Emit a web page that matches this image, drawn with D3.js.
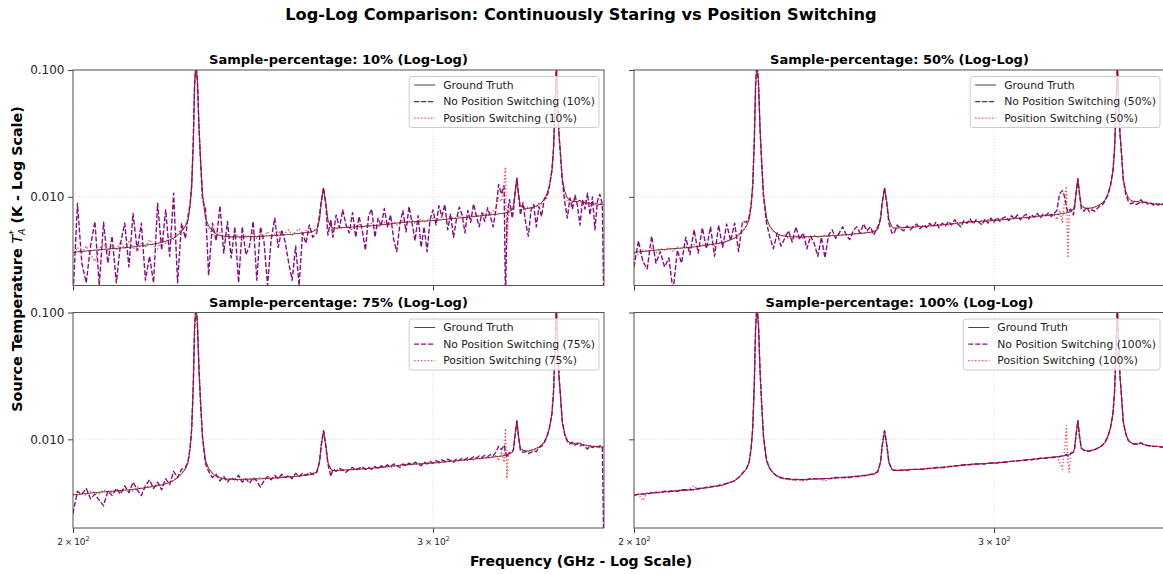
<!DOCTYPE html>
<html><head><meta charset="utf-8">
<script src="https://cdn.jsdelivr.net/npm/d3@7"></script>
<style>
html,body{margin:0;padding:0;background:#fff;}
svg{display:block;font-family:"DejaVu Sans",sans-serif;}
</style></head><body>
<svg id="chart" width="1163" height="574"></svg>
<script>
// Frequency grid (GHz), denser around the spectral lines
const freqGHz = [
  200,201,202,203,204,205,206,207,208,209,210,211,212,213,214,215,216,217,218,219,220,221,222,223,224,225,226,
  227,227.7,228.2,228.6,229.0,229.35,229.7,230.1,230.5,230.9,231.4,232.2,
  233,234,235,236,237,238,239,240,241,242,243,244,245,246,247,248,249,250,251,252,253,254,255,256,257,258,259,260,261,262,
  263.2,264.0,264.5,265.2,265.9,266.5,267.4,
  268,269,270,271,272,273,274,275,276,277,278,279,280,281,282,283,284,285,286,287,
  288,289,290,291,292,293,294,295,296,297,298,299,300,301,302,303,304,305,306,307,
  308,309,310,311,312,313,314,315,316,317,318,319,320,321,322,323,324,325,325.5,326,326.5,327,
  328,328.5,329.0,329.7,330.3,330.9,
  331,332,333,334,335,336,337,338,339,340,341,
  342,343,343.6,344.1,344.7,345.2,345.7,346.2,347.0,
  348,349,350,351,352,353,354,355,356,357,358,359,360,361,362,363,363.6
];

// Source temperature T_A* (K)
const groundTruth = [
  .00365,.00368,.00371,.00374,.00377,.00380,.00383,.00385,.00388,.00390,
  .00392,.00395,.00397,.00400,.00403,.00407,.00411,.00415,.00420,.00425,
  .00430,.00437,.00446,.00458,.00474,.00498,.00535,
  .00585,.0066,.0085,.0120,.0260,.0750,.1150,.0800,.0350,.0196,.0105,.0068,
  .00590,.00540,.00510,.00497,.00490,.00486,.00484,.00483,.00483,.00483,
  .00484,.00485,.00486,.00487,.00488,.00490,.00492,.00494,.00496,.00498,
  .00500,.00502,.00505,.00508,.00511,.00514,.00518,.00522,.00526,.00532,
  .00555,.0066,.0089,.0117,.0089,.0066,.00580,
  .00568,.00568,.00570,.00572,.00574,.00576,.00578,.00580,.00582,.00584,
  .00586,.00589,.00592,.00595,.00598,.00601,.00605,.00609,.00613,.00617,
  .00621,.00625,.00628,.00631,.00634,.00636,.00638,.00640,.00642,.00644,
  .00646,.00648,.00650,.00653,.00656,.00660,.00663,.00667,.00670,.00674,
  .00677,.00681,.00684,.00688,.00691,.00695,.00698,.00702,.00706,.00709,
  .00713,.00717,.00721,.00725,.00729,.00734,.00739,.00745,
  .00748,.00752,.00758,.00770,
  .00790,.0085,.0107,.0140,.0107,.0087,
  .0085,.0082,.0081,.0081,.0082,.0083,.0085,.0087,.0090,.0095,.0105,
  .0122,.0160,.0235,.0450,.1150,.0550,.0320,.0235,.0138,
  .0110,.0098,.0094,.0092,.0092,.0092,.0094,.0091,.0090,.0089,
  .0089,.0088,.0088,.0088,.0087,.0087,.0087
];

const noSwitch10 = [
  .0016,.0089,.0030,.0021,.0041,.0064,.0020,.0063,.0030,.0049,
  .0021,.0043,.0062,.0028,.0074,.0038,.0062,.0022,.0034,.0021,
  .0089,.0038,.0079,.0034,.0107,.0021,.0062,
  .0047,.0072,.0088,.0125,.0270,.0760,.1150,.0790,.0340,.0190,.0095,.0080,
  .0024,.0062,.0045,.0085,.0036,.0064,.0033,.0058,.0021,.0058,
  .0035,.0041,.0064,.0022,.0058,.0044,.0020,.0046,.0068,.0040,
  .0055,.0044,.0030,.0022,.0041,.0020,.0052,.0043,.0060,.0048,
  .0052,.0072,.0093,.0118,.0085,.0050,.0066,
  .0048,.0072,.0057,.0079,.0060,.0052,.0075,.0048,.0070,.0055,
  .0038,.0071,.0080,.0048,.0068,.0059,.0081,.0058,.0072,.0046,
  .0037,.0061,.0078,.0053,.0084,.0062,.0045,.0071,.0040,.0058,
  .0037,.0066,.0079,.0060,.0085,.0070,.0087,.0055,.0073,.0048,
  .0066,.0083,.0072,.0052,.0078,.0063,.0088,.0071,.0058,.0075,
  .0064,.0082,.0070,.0058,.0079,.0125,.0105,.0122,
  .0015,.0060,.0082,.0095,
  .0068,.0080,.0105,.0140,.0104,.0080,
  .0072,.0090,.0062,.0049,.0078,.0087,.0058,.0084,.0070,.0096,.0098,
  .0120,.0165,.0240,.0440,.1150,.0560,.0310,.0230,.0135,
  .0090,.0068,.0098,.0080,.0103,.0085,.0060,.0095,.0080,.0107,
  .0072,.0100,.0055,.0092,.0105,.0088,.0015
];
const switch10 = [
  .0034,.0040,.0036,.0041,.0035,.0031,.0039,.0043,.0037,.0042,
  .0038,.0044,.0039,.0045,.0040,.0037,.0043,.0040,.0046,.0041,
  .0039,.0047,.0043,.0049,.0046,.0052,.0055,
  .0060,.0067,.0086,.0118,.0255,.0740,.1150,.0810,.0355,.0200,.0108,.0066,
  .0057,.0051,.0048,.0052,.0046,.0050,.0047,.0051,.0049,.0045,
  .0050,.0048,.0052,.0047,.0051,.0049,.0053,.0048,.0051,.0054,
  .0049,.0052,.0055,.0050,.0053,.0056,.0051,.0054,.0052,.0055,
  .0054,.0067,.0090,.0116,.0088,.0064,.0058,
  .0058,.0055,.0059,.0056,.0060,.0057,.0055,.0059,.0061,.0057,
  .0060,.0058,.0062,.0059,.0057,.0061,.0063,.0059,.0062,.0064,
  .0060,.0063,.0065,.0061,.0064,.0066,.0062,.0065,.0067,.0063,
  .0066,.0064,.0068,.0065,.0067,.0069,.0066,.0068,.0070,.0067,
  .0069,.0071,.0068,.0070,.0072,.0069,.0071,.0073,.0070,.0072,
  .0075,.0071,.0074,.0076,.0082,.0098,.0092,.0130,
  .0172,.0042,.0068,.0082,
  .0080,.0086,.0106,.0138,.0108,.0088,
  .0083,.0086,.0079,.0084,.0080,.0086,.0083,.0089,.0088,.0097,.0103,
  .0124,.0158,.0238,.0455,.1150,.0545,.0325,.0232,.0140,
  .0108,.0092,.0097,.0090,.0095,.0089,.0094,.0088,.0093,.0087,
  .0091,.0086,.0090,.0085,.0089,.0088,.0087
];

const noSwitch50 = [
  .0028,.0045,.0031,.0027,.0049,.0030,.0037,.0028,.0033,.0018,
  .0038,.0030,.0048,.0035,.0055,.0036,.0057,.0039,.0058,.0034,
  .0060,.0040,.0061,.0045,.0062,.0037,.0064,
  .0063,.0070,.0086,.0122,.0265,.0755,.1150,.0795,.0345,.0193,.0100,.0062,
  .0049,.0039,.0052,.0041,.0047,.0054,.0044,.0058,.0046,.0052,
  .0039,.0049,.0043,.0034,.0048,.0033,.0050,.0055,.0047,.0052,
  .0058,.0050,.0046,.0054,.0058,.0052,.0061,.0054,.0058,.0050,
  .0058,.0068,.0090,.0118,.0087,.0062,.0052,
  .0051,.0060,.0056,.0054,.0059,.0055,.0058,.0061,.0056,.0060,
  .0057,.0062,.0058,.0063,.0057,.0062,.0059,.0064,.0060,.0066,
  .0061,.0058,.0065,.0062,.0067,.0061,.0066,.0063,.0060,.0067,
  .0062,.0068,.0063,.0069,.0064,.0068,.0070,.0065,.0071,.0067,
  .0072,.0066,.0070,.0073,.0067,.0072,.0069,.0074,.0068,.0073,
  .0071,.0075,.0070,.0074,.0078,.0106,.0112,.0098,
  .0082,.0076,.0078,.0080,
  .0072,.0082,.0105,.0138,.0105,.0084,
  .0080,.0077,.0083,.0076,.0079,.0077,.0081,.0085,.0087,.0093,.0103,
  .0121,.0161,.0237,.0448,.1150,.0552,.0318,.0236,.0137,
  .0104,.0092,.0088,.0090,.0087,.0089,.0095,.0088,.0091,.0087,
  .0089,.0086,.0088,.0086,.0089,.0088,.0087
];
const switch50 = [
  .0036,.0035,.0038,.0037,.0039,.0036,.0039,.0038,.0040,.0037,
  .0040,.0039,.0041,.0039,.0042,.0040,.0042,.0041,.0043,.0041,
  .0044,.0042,.0045,.0046,.0047,.0051,.0053,
  .0060,.0067,.0084,.0121,.0258,.0745,.1150,.0805,.0352,.0198,.0106,.0067,
  .0058,.0053,.0051,.0049,.0050,.0047,.0049,.0048,.0049,.0047,
  .0049,.0048,.0050,.0048,.0049,.0050,.0048,.0050,.0049,.0051,
  .0050,.0051,.0050,.0052,.0051,.0052,.0051,.0053,.0052,.0054,
  .0055,.0066,.0089,.0117,.0089,.0066,.0058,
  .0057,.0056,.0058,.0057,.0058,.0057,.0059,.0058,.0059,.0058,
  .0060,.0059,.0060,.0059,.0061,.0060,.0061,.0060,.0062,.0061,
  .0063,.0062,.0063,.0062,.0064,.0063,.0065,.0063,.0065,.0064,
  .0066,.0065,.0066,.0065,.0067,.0066,.0067,.0066,.0068,.0067,
  .0069,.0068,.0069,.0068,.0070,.0069,.0071,.0070,.0071,.0070,
  .0072,.0071,.0073,.0072,.0066,.0078,.0063,.0105,
  .0121,.0033,.0070,.0078,
  .0081,.0086,.0106,.0139,.0107,.0087,
  .0085,.0083,.0081,.0082,.0081,.0083,.0084,.0087,.0089,.0095,.0104,
  .0123,.0159,.0236,.0452,.1150,.0548,.0322,.0234,.0139,
  .0109,.0097,.0093,.0091,.0093,.0091,.0090,.0092,.0089,.0090,
  .0088,.0089,.0087,.0088,.0087,.0087,.0087
];

const noSwitch75 = [
  .0026,.0039,.0037,.0041,.0034,.0037,.0033,.0030,.0039,.0036,
  .0041,.0037,.0043,.0038,.0046,.0040,.0036,.0043,.0048,.0041,
  .0046,.0040,.0049,.0044,.0056,.0050,.0058,
  .0060,.0068,.0086,.0121,.0262,.0752,.1150,.0798,.0348,.0194,.0103,.0064,
  .0056,.0050,.0053,.0047,.0051,.0046,.0050,.0048,.0052,.0046,
  .0049,.0045,.0050,.0047,.0042,.0047,.0051,.0048,.0052,.0049,
  .0053,.0050,.0052,.0049,.0054,.0051,.0054,.0052,.0055,.0053,
  .0055,.0067,.0090,.0117,.0088,.0064,.0051,
  .0058,.0056,.0059,.0057,.0055,.0058,.0060,.0057,.0059,.0061,
  .0058,.0060,.0058,.0061,.0059,.0062,.0060,.0063,.0061,.0064,
  .0062,.0060,.0064,.0062,.0065,.0063,.0066,.0064,.0062,.0066,
  .0064,.0067,.0065,.0068,.0066,.0069,.0067,.0070,.0068,.0066,
  .0070,.0068,.0071,.0069,.0072,.0070,.0073,.0071,.0074,.0072,
  .0075,.0073,.0076,.0074,.0079,.0088,.0083,.0090,
  .0080,.0072,.0076,.0079,
  .0079,.0084,.0106,.0139,.0106,.0086,
  .0082,.0079,.0080,.0077,.0079,.0081,.0080,.0086,.0088,.0094,.0104,
  .0122,.0160,.0236,.0450,.1150,.0550,.0320,.0235,.0138,
  .0108,.0096,.0092,.0095,.0090,.0093,.0089,.0091,.0087,.0084,
  .0089,.0086,.0088,.0087,.0089,.0088,.0015
];
const switch75 = [
  .0037,.0036,.0038,.0036,.0039,.0038,.0037,.0040,.0039,.0038,
  .0040,.0039,.0041,.0040,.0039,.0042,.0041,.0042,.0043,.0042,
  .0044,.0043,.0045,.0046,.0048,.0050,.0054,
  .0059,.0066,.0085,.0120,.0259,.0748,.1150,.0802,.0351,.0197,.0106,.0068,
  .0058,.0054,.0051,.0050,.0049,.0048,.0049,.0048,.0047,.0049,
  .0048,.0049,.0048,.0049,.0050,.0049,.0050,.0049,.0050,.0049,
  .0051,.0050,.0051,.0050,.0052,.0051,.0052,.0053,.0052,.0054,
  .0056,.0066,.0089,.0117,.0089,.0066,.0058,
  .0057,.0058,.0056,.0058,.0057,.0058,.0057,.0059,.0058,.0059,
  .0058,.0060,.0059,.0060,.0059,.0061,.0060,.0061,.0060,.0062,
  .0061,.0063,.0062,.0063,.0062,.0064,.0063,.0065,.0064,.0065,
  .0064,.0066,.0065,.0066,.0065,.0067,.0066,.0068,.0067,.0068,
  .0067,.0069,.0068,.0069,.0068,.0070,.0069,.0071,.0070,.0071,
  .0070,.0072,.0071,.0073,.0074,.0068,.0080,.0066,
  .0122,.0049,.0072,.0077,
  .0080,.0085,.0107,.0140,.0106,.0087,
  .0084,.0082,.0081,.0080,.0082,.0082,.0085,.0086,.0090,.0095,.0105,
  .0122,.0160,.0235,.0450,.1150,.0550,.0320,.0235,.0138,
  .0110,.0098,.0093,.0092,.0093,.0094,.0091,.0092,.0089,.0090,
  .0088,.0089,.0087,.0088,.0086,.0087,.0087
];

const noSwitch100 = [
  .0036,.0037,.0037,.0037,.0038,.0038,.0038,.0039,.0039,.0039,
  .0039,.0040,.0040,.0040,.0040,.0041,.0041,.0042,.0042,.0043,
  .0043,.0044,.0045,.0046,.0047,.0050,.0054,
  .0059,.0066,.0085,.0120,.0260,.0750,.1150,.0800,.0350,.0196,.0105,.0068,
  .0059,.0054,.0051,.0050,.0049,.0049,.0048,.0048,.0048,.0048,
  .0048,.0049,.0049,.0049,.0049,.0049,.0049,.0049,.0050,.0050,
  .0050,.0050,.0050,.0051,.0051,.0051,.0052,.0052,.0053,.0053,
  .0056,.0066,.0089,.0117,.0089,.0066,.0058,
  .0057,.0057,.0057,.0057,.0057,.0058,.0058,.0058,.0058,.0058,
  .0059,.0059,.0059,.0060,.0060,.0060,.0060,.0061,.0061,.0062,
  .0062,.0062,.0063,.0063,.0063,.0064,.0064,.0064,.0064,.0064,
  .0065,.0065,.0065,.0065,.0066,.0066,.0066,.0067,.0067,.0067,
  .0068,.0068,.0068,.0069,.0069,.0069,.0070,.0070,.0071,.0071,
  .0071,.0072,.0072,.0072,.0073,.0073,.0074,.0075,
  .0076,.0074,.0076,.0077,
  .0079,.0085,.0107,.0140,.0107,.0087,
  .0085,.0082,.0081,.0081,.0082,.0083,.0085,.0087,.0090,.0095,.0105,
  .0122,.0160,.0235,.0450,.1150,.0550,.0320,.0235,.0138,
  .0110,.0098,.0094,.0092,.0092,.0092,.0094,.0091,.0090,.0089,
  .0089,.0088,.0088,.0088,.0087,.0087,.0087
];
const switch100 = [
  .0036,.0037,.0033,.0038,.0037,.0039,.0038,.0039,.0038,.0040,
  .0039,.0040,.0039,.0041,.0043,.0040,.0042,.0041,.0043,.0042,
  .0044,.0043,.0045,.0046,.0047,.0050,.0054,
  .0058,.0066,.0085,.0120,.0260,.0750,.1150,.0800,.0350,.0196,.0105,.0069,
  .0060,.0054,.0052,.0049,.0049,.0048,.0048,.0049,.0048,.0047,
  .0048,.0049,.0048,.0049,.0048,.0047,.0049,.0050,.0049,.0050,
  .0050,.0051,.0050,.0051,.0051,.0052,.0051,.0052,.0053,.0053,
  .0055,.0066,.0089,.0117,.0089,.0066,.0058,
  .0057,.0057,.0057,.0058,.0057,.0058,.0058,.0058,.0058,.0059,
  .0058,.0059,.0059,.0060,.0060,.0060,.0061,.0061,.0061,.0062,
  .0062,.0063,.0062,.0063,.0063,.0064,.0064,.0064,.0065,.0064,
  .0065,.0065,.0065,.0066,.0065,.0066,.0067,.0066,.0067,.0068,
  .0067,.0068,.0069,.0068,.0069,.0070,.0069,.0070,.0071,.0071,
  .0071,.0072,.0072,.0073,.0073,.0066,.0058,.0093,
  .0129,.0068,.0055,.0079,
  .0079,.0085,.0107,.0140,.0107,.0087,
  .0085,.0082,.0081,.0081,.0082,.0083,.0085,.0087,.0090,.0095,.0105,
  .0122,.0160,.0235,.0450,.1150,.0550,.0320,.0235,.0138,
  .0110,.0098,.0094,.0092,.0092,.0092,.0094,.0091,.0090,.0089,
  .0089,.0088,.0088,.0088,.0087,.0087,.0087
];

const samplePercentages = ["10%", "50%", "75%", "100%"];
const yTickValues = [0.1, 0.01];
const xTickValues = [200, 300];

const panels = [
  { pct: samplePercentages[0], noSwitch: noSwitch10,  withSwitch: switch10 },
  { pct: samplePercentages[1], noSwitch: noSwitch50,  withSwitch: switch50 },
  { pct: samplePercentages[2], noSwitch: noSwitch75,  withSwitch: switch75 },
  { pct: samplePercentages[3], noSwitch: noSwitch100, withSwitch: switch100 }
];

const svg = d3.select("#chart");
const W = 531, H = 215.5;
const origins = [[73, 70], [634, 70], [73, 312.5], [634, 312.5]];

const x = d3.scaleLog().domain([200, 363.7]).range([0, W]);
const y = d3.scaleLog().domain([0.002, 0.1]).range([H, 0]);

const line = d3.line()
  .defined((d, i) => d != null && freqGHz[i] != null)
  .x((d, i) => x(freqGHz[i]))
  .y(d => y(d));

const styles = {
  truth:   { stroke: "#000", width: 1.0, dash: null,      opacity: 0.72 },
  noSw:    { stroke: "#800080", width: 1.4, dash: "5,2",  opacity: 0.95 },
  withSw:  { stroke: "#ff0000", width: 1.3, dash: "1.3,2.1", opacity: 0.75 }
};

const defs = svg.append("defs");

// Figure title
svg.append("text")
  .attr("x", 581).attr("y", 20)
  .attr("text-anchor", "middle")
  .attr("font-size", "16.2px").attr("font-weight", "bold").attr("fill", "#000")
  .text("Log-Log Comparison: Continuously Staring vs Position Switching");

panels.forEach((p, i) => {
  const [ox, oy] = origins[i];
  const isLeft = i % 2 === 0, isBottom = i >= 2;
  const g = svg.append("g").attr("transform", `translate(${ox},${oy})`);

  defs.append("clipPath").attr("id", "clip" + i)
    .append("rect").attr("width", W).attr("height", H);

  // grid
  const grid = g.append("g");
  grid.selectAll("line.gy").data(yTickValues).join("line")
    .attr("x1", 0).attr("x2", W)
    .attr("y1", d => y(d)).attr("y2", d => y(d))
    .attr("stroke", "#c8c8c8").attr("stroke-width", 0.8)
    .attr("stroke-dasharray", "1,2").attr("opacity", 0.8);
  grid.selectAll("line.gx").data(xTickValues).join("line")
    .attr("x1", d => x(d)).attr("x2", d => x(d))
    .attr("y1", 0).attr("y2", H)
    .attr("stroke", "#c8c8c8").attr("stroke-width", 0.8)
    .attr("stroke-dasharray", "1,2").attr("opacity", 0.8);

  // spectra
  const plot = g.append("g").attr("clip-path", `url(#clip${i})`);
  [[groundTruth, styles.truth], [p.noSwitch, styles.noSw], [p.withSwitch, styles.withSw]]
    .forEach(([vals, s]) => {
      plot.append("path").datum(vals)
        .attr("d", line)
        .attr("fill", "none")
        .attr("stroke", s.stroke)
        .attr("stroke-width", s.width)
        .attr("stroke-opacity", s.opacity)
        .attr("stroke-dasharray", s.dash)
        .attr("stroke-linejoin", "round");
    });

  // axes
  const yAxis = d3.axisLeft(y).tickValues(yTickValues).tickSize(5).tickPadding(3.5)
    .tickFormat(isLeft ? d3.format(".3f") : () => "");
  const ya = g.append("g").call(yAxis);
  ya.select(".domain").remove();
  ya.selectAll(".tick line").attr("stroke", "#444").attr("stroke-width", 1);
  ya.selectAll(".tick text").attr("font-size", "12px").attr("fill", "#262626")
    .attr("font-family", "DejaVu Sans");

  const xAxis = d3.axisBottom(x).tickValues(xTickValues).tickSize(5).tickFormat(() => "");
  const xa = g.append("g").attr("transform", `translate(0,${H})`).call(xAxis);
  xa.select(".domain").remove();
  xa.selectAll(".tick line").attr("stroke", "#444").attr("stroke-width", 1);
  if (isBottom) {
    xa.selectAll(".tick text").each(function (d) {
      const t = d3.select(this)
        .attr("y", 17).attr("dy", null)
        .attr("font-size", "9px").attr("fill", "#262626")
        .attr("font-family", "DejaVu Sans");
      t.append("tspan").text(`${d / 100}\u2009\u00d7\u200910`);
      t.append("tspan").attr("font-size", "6.5px").attr("dy", -4).text("2");
    });
  }

  // spines
  g.append("rect").attr("width", W).attr("height", H)
    .attr("fill", "none").attr("stroke", "#555").attr("stroke-width", 1);

  // panel title
  g.append("text")
    .attr("x", W / 2).attr("y", -6)
    .attr("text-anchor", "middle")
    .attr("font-size", "13px").attr("font-weight", "bold").attr("fill", "#000")
    .text(`Sample-percentage: ${p.pct} (Log-Log)`);

  // legend
  const labels = ["Ground Truth", `No Position Switching (${p.pct})`, `Position Switching (${p.pct})`];
  const legStyles = [styles.truth, styles.noSw, styles.withSw];
  const leg = g.append("g");
  const box = leg.append("rect");
  const texts = labels.map((lab, k) =>
    leg.append("text").attr("y", 8.5 + k * 16.6).attr("dy", "0.35em")
      .attr("font-size", "10.8px").attr("fill", "#222").text(lab));
  const maxW = d3.max(texts, t => t.node().getComputedTextLength());
  const bw = maxW + 38, bh = 51;
  const bx = W - 5 - bw, by = 6.5;
  leg.attr("transform", `translate(${bx},${by})`);
  box.attr("width", bw).attr("height", bh).attr("rx", 2.5)
    .attr("fill", "#fff").attr("fill-opacity", 0.8)
    .attr("stroke", "#cccccc").attr("stroke-width", 1);
  texts.forEach(t => t.attr("x", 34));
  legStyles.forEach((s, k) => {
    leg.append("line")
      .attr("x1", 5).attr("x2", 26)
      .attr("y1", 8.5 + k * 16.6).attr("y2", 8.5 + k * 16.6)
      .attr("stroke", s.stroke).attr("stroke-width", s.width)
      .attr("stroke-opacity", s.opacity).attr("stroke-dasharray", s.dash);
  });
});

// shared axis labels
svg.append("text")
  .attr("x", 581).attr("y", 566)
  .attr("text-anchor", "middle")
  .attr("font-size", "14px").attr("font-weight", "bold").attr("fill", "#000")
  .text("Frequency (GHz - Log Scale)");

const yl = svg.append("text")
  .attr("transform", "translate(22,259) rotate(-90)")
  .attr("text-anchor", "middle")
  .attr("font-size", "14.3px").attr("font-weight", "bold").attr("fill", "#000");
yl.append("tspan").text("Source Temperature ");
yl.append("tspan").attr("font-style", "italic").attr("font-weight", "normal").text("T");
yl.append("tspan").attr("font-size", "9.5px").attr("font-weight", "normal").attr("dy", -6).text("*");
yl.append("tspan").attr("font-size", "9.5px").attr("font-weight", "normal").attr("font-style", "italic")
  .attr("dx", -5).attr("dy", 9).text("A");
yl.append("tspan").attr("dy", -3).text(" (K - Log Scale)");
</script>
</body></html>
